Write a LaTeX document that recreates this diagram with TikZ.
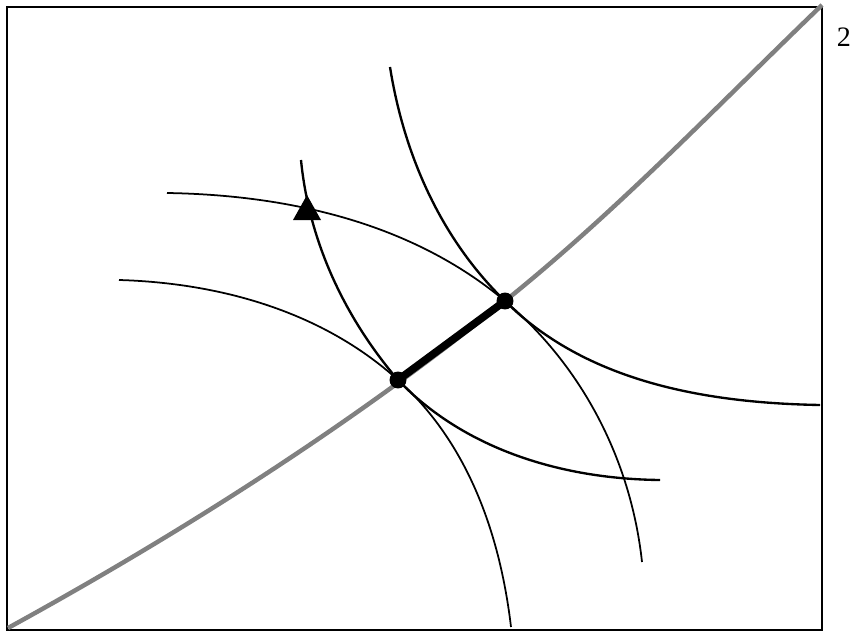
\documentclass[tikz,border=0pt]{standalone}
\usepackage{fontspec}
\setmainfont{Liberation Serif}
\begin{document}
\begin{tikzpicture}[scale=3,
        curva/.style={line width=2pt},
        curvasottile/.style={line width=1.5pt},
        punto/.style={circle, fill=black, inner sep=0pt, minimum size=14.5pt}]
        \useasboundingbox (0,0) rectangle (8.51,6.35);

        % Cornice
        \draw[line width=1.8pt] (0.07,0.05) rectangle (8.22,6.28);
        \node[font=\fontsize{24}{28}\selectfont, inner sep=0pt] (etichetta) at (8.44,5.975) {2};

        % Punti sulla curva grigia
        \coordinate (D1) at (3.98,2.55);
        \coordinate (D2) at (5.05,3.34);

        % Curva grigia
        \draw[gray, line width=3.8pt] (0.08,0.07) .. controls (1.81,1.02) and (3.51,2.10) .. (D2)
            .. controls (6.17,4.24) and (7.18,5.30) .. (8.22,6.30);

        % Archi per D2
        \draw[curva] (3.90,5.68) .. controls (4.04,4.80) and (4.41,3.96) .. (D2)
            .. controls (5.86,2.53) and (7.06,2.32) .. (8.20,2.30);
        \draw[curvasottile] (1.67,4.42) .. controls (2.89,4.40) and (4.12,4.12) .. (D2)
            .. controls (5.83,2.68) and (6.31,1.74) .. (6.42,0.73);

        % Archi per D1
        \draw[curva] (3.01,4.75) .. controls (3.09,3.93) and (3.45,3.17) .. (D1)
            .. controls (4.65,1.85) and (5.63,1.56) .. (6.60,1.55);
        \draw[curvasottile] (1.19,3.55) .. controls (2.21,3.52) and (3.23,3.23) .. (D1)
            .. controls (4.68,1.92) and (5.00,1.01) .. (5.11,0.08);

        % Freccia sull'arco
        \coordinate (T) at (3.07,4.40);
        \fill (T) -- ++(-0.14,-0.25) -- ++(0.28,0) -- cycle;

        % Punti e segmento che li unisce
        \node[punto] (P1) at (D1) {};
        \node[punto] (P2) at (D2) {};
        \draw[line width=6.5pt] (P1.center) -- (P2.center);
    \end{tikzpicture}
\end{document}
